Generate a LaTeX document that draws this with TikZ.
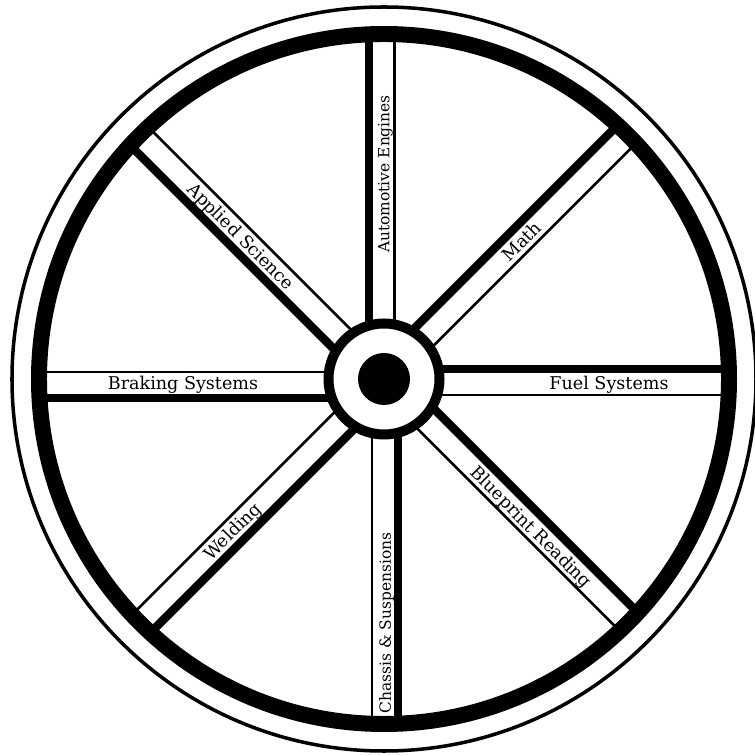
\documentclass[tikz,border=0pt]{standalone}
\usepackage{fontspec}
\newfontfamily\spokefont{DejaVu Serif}
\tikzset{
  rimline/.style={line width=9.1pt},
  tireline/.style={line width=2pt},
  hubline/.style={line width=5.7pt},
  barline/.style={line width=4.8pt},
  edgeline/.style={line width=1.5pt},
  spokelabel/.style={font={\spokefont\fontsize{#1}{12}\selectfont}, inner sep=0pt, text height=7.3pt, text depth=0pt},
  spokelabel/.default=10
}
\begin{document}
\begin{tikzpicture}[x=0.02cm, y=0.02cm]
  \useasboundingbox (-384,-377) rectangle (370,379);
  \foreach \a/\s in {0/-4.5, 45/0, 90/1, 135/0, 180/4.5, 225/0, 270/-0.5, 315/0} {
    \begin{scope}[rotate=\a]
      \draw[edgeline] (50,{\s-11.5}) -- (345,{\s-11.5});
      \draw[barline] (50,{\s+14.25}) -- (345,{\s+14.25});
    \end{scope}
  }
  \node[spokelabel] (fuel) at (225,-4.5) {Fuel Systems};
  \node[spokelabel] (braking) at (-201,-4.5) {Braking Systems};
  \node[spokelabel=8.8, rotate=90] (engines) at (-1,205) {Automotive Engines};
  \node[spokelabel=8.8, rotate=90] (chassis) at (0.5,-244) {Chassis \& Suspensions};
  \node[spokelabel, rotate=45] (math) at (45:195) {Math};
  \node[spokelabel, rotate=45] (welding) at (225:215) {Welding};
  \node[spokelabel, rotate=-45] (science) at (135:202) {Applied Science};
  \node[spokelabel, rotate=-45] (blueprint) at (315:209) {Blueprint Reading};
  \draw[rimline] (0,0) circle (345);
  \draw[tireline] (0,0) circle (372);
  \draw[hubline] (0,0) circle (55.5);
  \fill (0,0) circle (26);
\end{tikzpicture}
\end{document}
